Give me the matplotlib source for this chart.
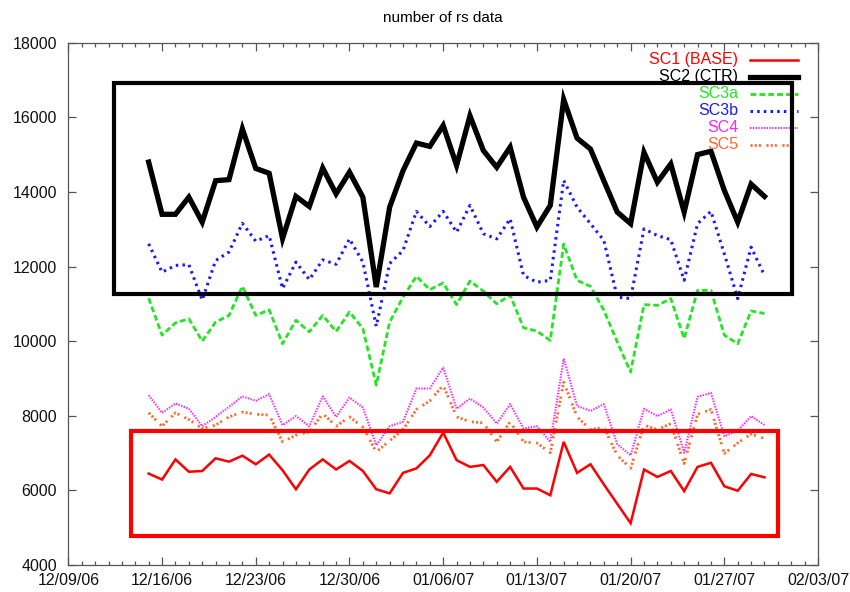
# -*- coding: utf-8 -*-
import datetime as dt
import matplotlib
matplotlib.use("Agg")
import matplotlib.pyplot as plt
import matplotlib.dates as mdates
from matplotlib.patches import Rectangle

plt.rcParams['font.family'] = ['Liberation Sans', 'DejaVu Sans']
plt.rcParams['lines.scale_dashes'] = False

start = dt.datetime(2006, 12, 15)
n_days = 47

sc1 = [6450, 6290, 6830, 6500, 6520, 6860, 6770, 6930, 6700, 6960,
       6540, 6030, 6560, 6830, 6560, 6790, 6520, 6030, 5920, 6470,
       6590, 6940, 7550, 6810, 6630, 6680, 6230, 6630, 6050, 6050,
       5870, 7300, 6470, 6700, 6160, 5640, 5120, 6560, 6360, 6520,
       5980, 6630, 6740, 6110, 5990, 6440, 6350]
sc2 = [14800, 13400, 13400, 13860, 13190, 14300, 14330, 15690, 14630, 14500,
       12750, 13880, 13610, 14640, 13950, 14530, 13860, 11450, 13590, 14570,
       15310, 15220, 15780, 14710, 16040, 15110, 14660, 15200, 13860, 13060,
       13640, 16480, 15440, 15150, 14300, 13460, 13150, 15060, 14260, 14750,
       13460, 15000, 15090, 14040, 13190, 14210, 13880]
sc3a = [11150, 10160, 10490, 10600, 10000, 10510, 10690, 11470, 10690, 10840,
        9930, 10560, 10250, 10690, 10260, 10780, 10340, 8820, 10510, 11180,
        11740, 11380, 11560, 10980, 11610, 11340, 11000, 11230, 10360, 10270,
        10020, 12600, 11630, 11470, 10830, 9980, 9170, 10980, 10960, 11140,
        10070, 11360, 11360, 10160, 9930, 10810, 10740]
sc3b = [12610, 11850, 12030, 12050, 11100, 12160, 12390, 13160, 12680, 12830,
        11410, 12120, 11650, 12180, 12060, 12740, 12120, 10400, 12080, 12430,
        13480, 13070, 13480, 12920, 13640, 12880, 12740, 13280, 11760, 11580,
        11630, 14310, 13590, 13150, 12700, 11180, 11140, 13010, 12830, 12720,
        11630, 13150, 13480, 12340, 11140, 12520, 11760]
sc4 = [8550, 8080, 8330, 8190, 7720, 7970, 8240, 8520, 8400, 8580,
       7750, 7990, 7720, 8520, 7970, 8490, 8220, 7210, 7720, 7840,
       8730, 8730, 9290, 8190, 8460, 8220, 7790, 8310, 7660, 7720,
       7300, 9530, 8260, 8130, 8310, 7240, 6940, 8190, 7990, 8170,
       7010, 8510, 8610, 7450, 7600, 7990, 7750]
sc5 = [8080, 7720, 8080, 7900, 7660, 7750, 7970, 8100, 8040, 8020,
       7300, 7480, 7570, 8060, 7720, 7970, 7700, 7030, 7330, 7630,
       8170, 8400, 8820, 7970, 7840, 7810, 7300, 7840, 7300, 7270,
       7010, 8900, 7970, 7630, 7690, 6940, 6590, 7750, 7630, 7790,
       6720, 8040, 8170, 6990, 7270, 7510, 7390]

labels = ["SC1 (BASE)", "SC2 (CTR)", "SC3a", "SC3b", "SC4", "SC5"]
colors = ["#ff0000", "#000000", "#22e622", "#1a1aff", "#ff22ff", "#ff6a2a"]

# highlight boxes: (from, to, ymin, ymax)
box_ctr = (dt.datetime(2006, 12, 12, 10), dt.datetime(2007, 2, 1, 2), 11270, 16910)
box_base = (dt.datetime(2006, 12, 13, 16), dt.datetime(2007, 1, 31, 0), 4780, 7590)


def add_box(ax, box, color):
    x0 = mdates.date2num(box[0])
    x1 = mdates.date2num(box[1])
    r = Rectangle((x0, box[2]), x1 - x0, box[3] - box[2], fill=False,
                  edgecolor=color, linewidth=3.0, zorder=10, clip_on=False)
    ax.add_patch(r)


def main():
    days = [start + dt.timedelta(days=i) for i in range(n_days)]
    series = [sc1, sc2, sc3a, sc3b, sc4, sc5]
    styles = [
        dict(lw=1.8),
        dict(lw=3.8),
        dict(lw=2.0, dashes=(4.2, 2.2)),
        dict(lw=2.2, dashes=(1.8, 3.0)),
        dict(lw=1.5, dashes=(1.0, 1.0)),
        dict(lw=2.0, dashes=(1.5, 1.5, 1.5, 1.5, 1.5, 4.0)),
    ]

    fig = plt.figure(figsize=(8.5, 5.92), dpi=100)
    ax = fig.add_axes([0.0804, 0.0456, 0.882, 0.8823])

    for vals, c, st in zip(series, colors, styles):
        ax.plot(days, vals, color=c, solid_joinstyle='miter', **st)

    add_box(ax, box_ctr, "#000000")
    add_box(ax, box_base, "#ff0000")

    # legend (text right aligned, sample on the right like gnuplot)
    for i, (lab, c, st) in enumerate(zip(labels, colors, styles)):
        y = 0.9670 - 0.0325 * i
        ax.text(0.8933, y, lab, color=c, fontsize=11.5, ha='right',
                va='center', transform=ax.transAxes, zorder=5)
        ax.plot([0.909, 0.973], [y, y], color=c, transform=ax.transAxes,
                clip_on=False, zorder=5, **st)

    ax.set_xlim(dt.datetime(2006, 12, 9), dt.datetime(2007, 2, 3))
    ax.set_ylim(4000, 18000)
    ax.set_yticks(range(4000, 18001, 2000))
    ax.xaxis.set_major_locator(mdates.WeekdayLocator(byweekday=mdates.SA))
    ax.xaxis.set_minor_locator(mdates.DayLocator())
    ax.xaxis.set_major_formatter(mdates.DateFormatter('%m/%d/%y'))

    for s in ax.spines.values():
        s.set_color('#555555')
        s.set_linewidth(0.9)
    ax.tick_params(which='both', direction='in', top=True, right=True,
                   color='#555555', labelsize=11.5, labelcolor='#111111')
    ax.tick_params(which='major', length=6, width=0.9, pad=6)
    ax.tick_params(which='minor', length=3, width=0.9)
    ax.tick_params(axis='y', pad=8)

    ax.set_title("number of rs data", fontsize=11, pad=15)

    fig.savefig("out.png", dpi=100)


if __name__ == "__main__":
    main()
